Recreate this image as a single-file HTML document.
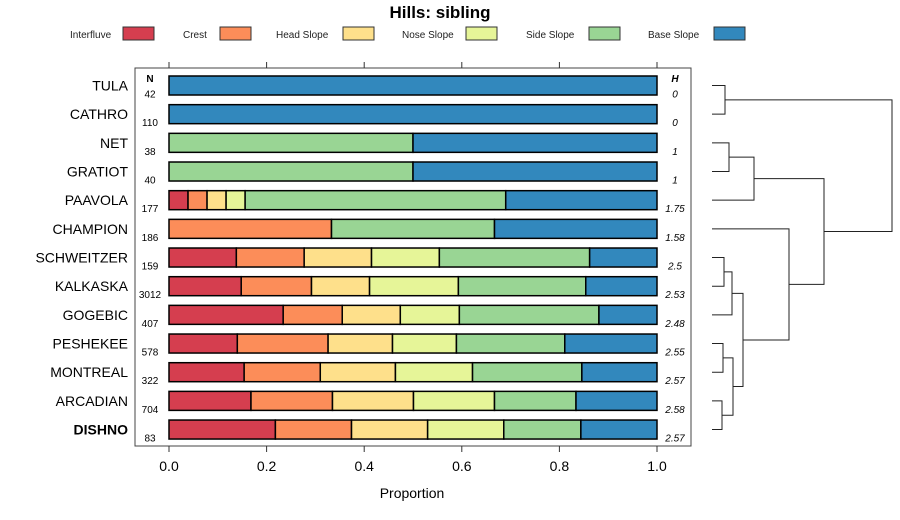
<!DOCTYPE html>
<html><head><meta charset="utf-8"><style>
body{margin:0;background:#fff;}
svg{display:block;font-family:"Liberation Sans",sans-serif;}
</style></head><body>
<svg id="chart" width="900" height="520"></svg>
<script>
const sites=["TULA","CATHRO","NET","GRATIOT","PAAVOLA","CHAMPION","SCHWEITZER","KALKASKA","GOGEBIC","PESHEKEE","MONTREAL","ARCADIAN","DISHNO"];
const nVals=["42","110","38","40","177","186","159","3012","407","578","322","704","83"];
const hVals=["0","0","1","1","1.75","1.58","2.5","2.53","2.48","2.55","2.57","2.58","2.57"];
const classes=["Interfluve","Crest","Head Slope","Nose Slope","Side Slope","Base Slope"];
const colors=["#D53E4F","#FC8D59","#FEE08B","#E6F598","#99D594","#3288BD"];
const interfluve=[0,0,0,0,.039,0,.138,.148,.234,.140,.154,.168,.218];
const crest=[0,0,0,0,.039,.333,.139,.144,.121,.186,.156,.167,.156];
const headSlope=[0,0,0,0,.039,0,.138,.119,.119,.132,.154,.166,.156];
const noseSlope=[0,0,0,0,.039,0,.139,.182,.121,.131,.158,.166,.156];
const sideSlope=[0,0,.5,.5,.534,.334,.308,.261,.286,.222,.224,.167,.158];
const baseSlope=[1,1,.5,.5,.310,.333,.138,.146,.119,.189,.154,.166,.156];
const xTicks=[0,0.2,0.4,0.6,0.8,1.0];
const xTickLabels=["0.0","0.2","0.4","0.6","0.8","1.0"];
// dendrogram merges: [left id, right id, height(px x)] ; leaves 0..12, internal 13+
const merges=[[0,1,725],[2,3,729],[13+1,4,754],[6,7,724],[13+3,8,732],[9,10,723],[11,12,722],[13+5,13+6,733],[13+4,13+7,743],[5,13+8,789],[13+2,13+9,824],[13+0,13+10,892]];

const svg=document.getElementById('chart');
const NS="http://www.w3.org/2000/svg";
function el(t,a,txt){const e=document.createElementNS(NS,t);for(const k in a)e.setAttribute(k,a[k]);if(txt!==undefined)e.textContent=txt;svg.appendChild(e);return e;}
const x0=169,x1=657;
const xs=v=>x0+v*(x1-x0);
const ys=i=>85.5+i*28.67;
const series=[interfluve,crest,headSlope,noseSlope,sideSlope,baseSlope];

let t=el('text',{x:440,y:18,'text-anchor':'middle','font-size':17,'font-weight':'bold'},'Hills: sibling');

// legend
const legX=[[70,123],[183,220],[276,343],[402,466],[526,589],[648,714]];
classes.forEach((c,i)=>{
  const lt=el('text',{x:legX[i][0],y:38,'font-size':10,fill:'#222'},c);
  
  const r=el('rect',{x:legX[i][1],y:27,width:31,height:13,fill:colors[i],stroke:'#333','stroke-width':1});
  
});
// frame
const fr=el('rect',{x:135,y:68,width:556,height:378,fill:'none',stroke:'#444','stroke-width':1});

xTicks.forEach((v,i)=>{
  const a=el('line',{x1:xs(v),x2:xs(v),y1:446,y2:452,stroke:'#333'});
  
  const b=el('line',{x1:xs(v),x2:xs(v),y1:62,y2:68,stroke:'#333'});
  
  const l=el('text',{x:xs(v),y:471,'text-anchor':'middle','font-size':14},xTickLabels[i]);
  
});
t=el('text',{x:412,y:498,'text-anchor':'middle','font-size':14},'Proportion');

t=el('text',{x:150,y:82,'text-anchor':'middle','font-size':10,'font-weight':'bold'},'N');

t=el('text',{x:675,y:82,'text-anchor':'middle','font-size':10,'font-weight':'bold','font-style':'italic'},'H');

sites.forEach((s,i)=>{
  const y=ys(i);
  const lb=el('text',{x:128,y:y+5,'text-anchor':'end','font-size':14,'font-weight':s==='DISHNO'?'bold':'normal'},s);
  
  const n=el('text',{x:150,y:y+12,'text-anchor':'middle','font-size':10},nVals[i]);
  
  const h=el('text',{x:675,y:y+12,'text-anchor':'middle','font-size':10,'font-style':'italic'},hVals[i]);
  
  let cum=0;
  series.forEach((ser,k)=>{
    const v=ser[i];if(v<=0){return;}
    const r=el('rect',{x:xs(cum),y:y-9.5,width:xs(cum+v)-xs(cum),height:19,fill:colors[k],stroke:'#000','stroke-width':1.5});
    
    cum+=v;
  });
});
// dendrogram
const nodes=sites.map((s,i)=>({x:712,y:ys(i)}));
merges.forEach(m=>{
  const a=nodes[m[0]],b=nodes[m[1]],h=m[2];
  const p=el('path',{d:`M${a.x},${a.y}H${h}V${b.y}H${b.x}`,fill:'none',stroke:'#222','stroke-width':1});
  
  nodes.push({x:h,y:(a.y+b.y)/2});
});
</script>
</body></html>
